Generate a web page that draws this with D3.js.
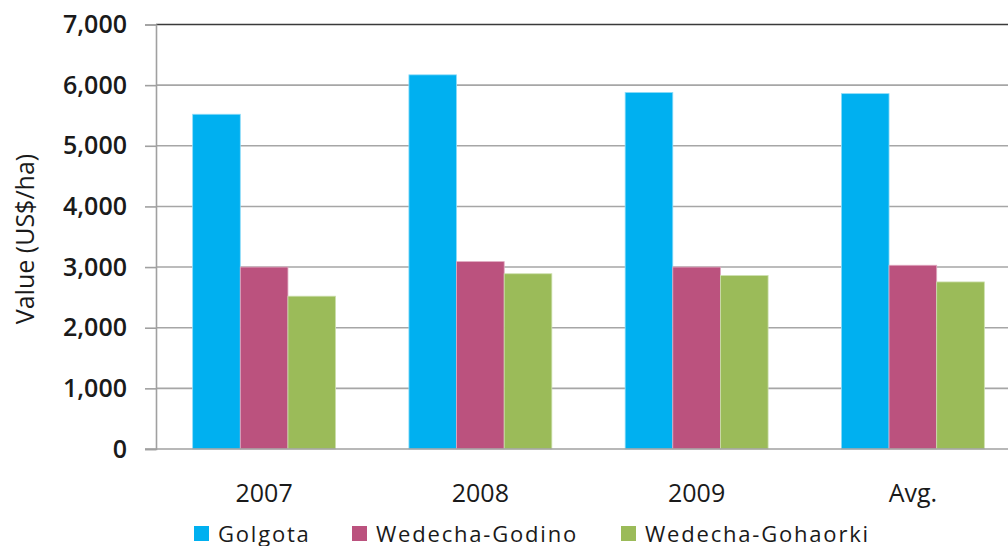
<!DOCTYPE html>
<html lang="en">
	<head>
		<meta charset="utf-8">
		<title>Value per hectare</title>
		<script type="text/javascript" src="https://cdn.jsdelivr.net/npm/d3@7"></script>
		<style type="text/css">
			body { margin: 0; background: #fff; }
			svg { display: block; font-family: "Open Sans", sans-serif; }
		</style>
	</head>
	<body>
		<script type="text/javascript">

			// data
			var categories = ["2007", "2008", "2009", "Avg."];
			var seriesNames = ["Golgota", "Wedecha-Godino", "Wedecha-Gohaorki"];
			var golgota = [5520, 6170, 5880, 5860];
			var godino = [3000, 3090, 3000, 3030];
			var gohaorki = [2520, 2890, 2860, 2755];
			var yTicks = [0, 1000, 2000, 3000, 4000, 5000, 6000, 7000];

			var colors = ["#00b0f0", "#bb527e", "#9bbb59"];
			var edges = ["#8fdcf8", "#e0a9c0", "#cde0ae"];

			var w = 1008;
			var h = 546;

			// plot area (right edge runs past the picture, as in the original)
			var plotLeft = 156, plotRight = 1021, plotTop = 24.5, plotBottom = 449;

			var values = [golgota, godino, gohaorki];
			var rows = [];
			categories.forEach(function(c, i) {
				seriesNames.forEach(function(s, j) {
					rows.push({ cat: c, series: s, idx: j, value: values[j][i] });
				});
			});

			var xScale = d3.scaleBand()
				.domain(categories)
				.range([plotLeft, plotRight])
				.paddingInner(0.339)
				.paddingOuter(0.339 / 2);

			var xInner = d3.scaleBand()
				.domain(seriesNames)
				.range([0, xScale.bandwidth()]);

			var yScale = d3.scaleLinear()
				.domain([0, 7000])
				.range([plotBottom, plotTop]);

			var svg = d3.select("body")
				.append("svg")
				.attr("width", w)
				.attr("height", h);

			// gridlines
			svg.append("g")
				.selectAll("line")
				.data(yTicks.filter(function(d) { return d > 0; }))
				.enter()
				.append("line")
				.attr("x1", plotLeft)
				.attr("x2", w)
				.attr("y1", function(d) { return yScale(d); })
				.attr("y2", function(d) { return yScale(d); })
				.attr("stroke", function(d) { return d === 7000 ? "#3a3a3a" : "#a6a6a6"; })
				.attr("stroke-width", 1.6);

			// bars
			svg.append("g")
				.selectAll("rect")
				.data(rows)
				.enter()
				.append("rect")
				.attr("x", function(d) { return xScale(d.cat) + xInner(d.series); })
				.attr("y", function(d) { return yScale(d.value); })
				.attr("width", xInner.bandwidth())
				.attr("height", function(d) { return yScale(0) - yScale(d.value); })
				.attr("fill", function(d) { return colors[d.idx]; })
				.attr("stroke", function(d) { return edges[d.idx]; })
				.attr("stroke-width", 0.8);

			// y axis
			var yAxis = d3.axisLeft(yScale)
				.tickValues(yTicks)
				.tickSize(11)
				.tickPadding(18)
				.tickFormat(d3.format(","));

			var gy = svg.append("g")
				.attr("transform", "translate(" + plotLeft + ",0)")
				.call(yAxis);
			gy.select(".domain").attr("stroke", "#a0a0a0").attr("stroke-width", 1.6);
			gy.selectAll(".tick line").attr("stroke", "#a0a0a0").attr("stroke-width", 1.6);
			gy.selectAll(".tick text")
				.attr("font-family", "Open Sans, sans-serif")
				.attr("font-size", "25px")
				.attr("font-weight", 600)
				.attr("fill", "#1a1a1a");

			// x axis
			var xAxis = d3.axisBottom(xScale).tickSize(0).tickPadding(35);
			var gx = svg.append("g")
				.attr("transform", "translate(0," + plotBottom + ")")
				.call(xAxis);
			gx.select(".domain").remove();
			gx.append("line")
				.attr("x1", plotLeft - 11)
				.attr("x2", w)
				.attr("stroke", "#a0a0a0")
				.attr("stroke-width", 1.6);
			gx.selectAll(".tick text")
				.attr("font-family", "Open Sans, sans-serif")
				.attr("font-size", "25px")
				.attr("fill", "#1a1a1a");

			// y axis title
			svg.append("text")
				.attr("transform", "translate(34,239) rotate(-90)")
				.attr("text-anchor", "middle")
				.attr("font-size", "25px")
				.attr("fill", "#1a1a1a")
				.text("Value (US$/ha)");

			// legend
			var legendX = [194, 352, 621];
			var legend = svg.append("g")
				.selectAll("g")
				.data(seriesNames)
				.enter()
				.append("g")
				.attr("transform", function(d, i) { return "translate(" + legendX[i] + ",526)"; });
			legend.append("rect")
				.attr("width", 15)
				.attr("height", 15)
				.attr("fill", function(d, i) { return colors[i]; });
			legend.append("text")
				.attr("x", 24)
				.attr("y", 15.5)
				.attr("font-size", "22px")
				.attr("letter-spacing", "1.8px")
				.attr("fill", "#1a1a1a")
				.text(function(d) { return d; });

		</script>
	</body>
</html>
